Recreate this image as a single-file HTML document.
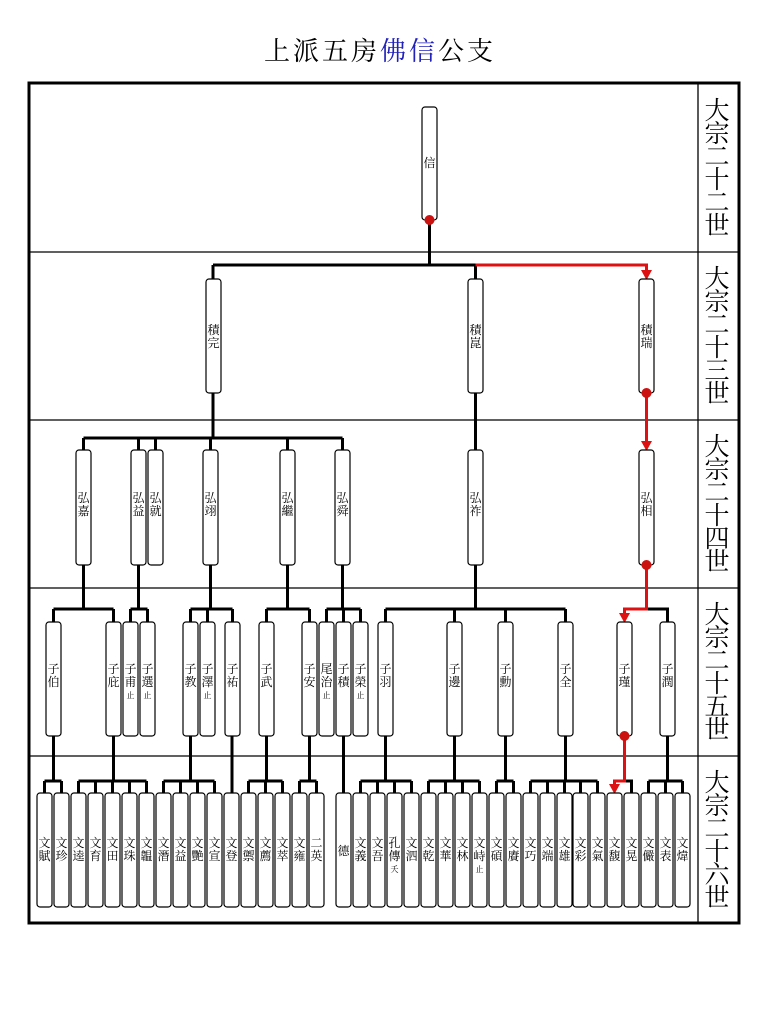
<!DOCTYPE html>
<html><head><meta charset="utf-8"><style>
html,body{margin:0;padding:0;background:#fff;}
svg{display:block;}
text{font-family:"Liberation Serif","Noto Serif CJK SC","Noto Serif CJK TC",serif;fill:#000;}
.b{fill:#fff;stroke:#000;stroke-width:1.2;}
.l{stroke:#000;stroke-width:3;fill:none;}
.r{stroke:#d11;stroke-width:3;fill:none;}
.t{font-size:12px;text-anchor:middle;}
.s{font-size:8px;text-anchor:middle;}
.g{font-size:25px;text-anchor:middle;}
</style></head><body>
<svg width="769" height="1024" viewBox="0 0 769 1024" xmlns="http://www.w3.org/2000/svg">
<!-- title -->
<text x="380" y="60" style="font-size:26px;text-anchor:middle;letter-spacing:3px">上派五房<tspan fill="#2222bb" style="fill:#2222bb">佛信</tspan>公支</text>
<!-- frame -->
<rect x="29" y="83" width="710" height="840" fill="none" stroke="#000" stroke-width="3"/>
<line x1="698" y1="83" x2="698" y2="923" stroke="#000" stroke-width="1.3"/>
<g stroke="#000" stroke-width="1.3">
<line x1="29" y1="252" x2="739" y2="252"/>
<line x1="29" y1="420" x2="739" y2="420"/>
<line x1="29" y1="588" x2="739" y2="588"/>
<line x1="29" y1="756" x2="739" y2="756"/>
</g>
<!-- generation labels -->
<g class="g">
<text x="717" y="119">大</text><text x="717" y="142">宗</text><text x="717" y="165">二</text><text x="717" y="188">十</text><text x="717" y="211">二</text><text x="717" y="234">世</text>
<text x="717" y="287">大</text><text x="717" y="310">宗</text><text x="717" y="333">二</text><text x="717" y="356">十</text><text x="717" y="379">三</text><text x="717" y="402">世</text>
<text x="717" y="455">大</text><text x="717" y="478">宗</text><text x="717" y="501">二</text><text x="717" y="524">十</text><text x="717" y="547">四</text><text x="717" y="570">世</text>
<text x="717" y="623">大</text><text x="717" y="646">宗</text><text x="717" y="669">二</text><text x="717" y="692">十</text><text x="717" y="715">五</text><text x="717" y="738">世</text>
<text x="717" y="791">大</text><text x="717" y="814">宗</text><text x="717" y="837">二</text><text x="717" y="860">十</text><text x="717" y="883">六</text><text x="717" y="906">世</text>
</g>

<!-- connectors gen22->23 -->
<path class="l" d="M429.5 220 V265 M213 265 H475.5 M213 265 V279 M475.5 265 V279"/>
<path class="r" d="M475.5 265 H646.5 V272"/>
<polygon points="641,270 652,270 646.5,280" fill="#d11"/>
<!-- gen23->24 -->
<path class="l" d="M213 393 V438 M83.5 438 H342.5 M83.5 438 V450 M138.5 438 V450 M155.5 438 V450 M210.5 438 V450 M287.5 438 V450 M342.5 438 V450 M475.5 393 V450"/>
<path class="r" d="M646.5 393 V443"/>
<polygon points="641,441 652,441 646.5,451" fill="#d11"/>
<!-- gen24->25 -->
<path class="l" d="M83.5 565 V609 M53.5 609 H113.5 M53.5 609 V622 M113.5 609 V622
M138.5 565 V609 M130.5 609 H147.5 M130.5 609 V622 M147.5 609 V622
M210.5 565 V609 M190.5 609 H232.5 M190.5 609 V622 M207.5 609 V622 M232.5 609 V622
M287.5 565 V609 M266.5 609 H309.5 M266.5 609 V622 M309.5 609 V622
M342.5 565 V609 M326.5 609 H360.5 M326.5 609 V622 M343.5 609 V622 M360.5 609 V622
M475.5 565 V609 M385.5 609 H565.5 M385.5 609 V622 M454.5 609 V622 M505.5 609 V622 M565.5 609 V622
M646.5 609 H667.5 V622"/>
<path class="r" d="M646.5 565 V609 H624.5 V615"/>
<polygon points="619,613 630,613 624.5,623" fill="#d11"/>
<!-- gen25->26 -->
<path class="l" d="M53.5 736 V781 M44.5 781 H61.5 M44.5 781 V793 M61.5 781 V793
M113.5 736 V781 M78.5 781 H146.5 M78.5 781 V793 M95.5 781 V793 M112.5 781 V793 M129.5 781 V793 M146.5 781 V793
M190.5 736 V781 M163.5 781 H214.5 M163.5 781 V793 M180.5 781 V793 M197.5 781 V793 M214.5 781 V793
M232 736 V793
M266.5 736 V781 M248.5 781 H282.5 M248.5 781 V793 M265.5 781 V793 M282.5 781 V793
M309.5 736 V781 M299.5 781 H316.5 M299.5 781 V793 M316.5 781 V793
M343.5 736 V793
M385.5 736 V781 M360.5 781 H411.5 M360.5 781 V793 M377.5 781 V793 M394.5 781 V793 M411.5 781 V793
M454.5 736 V781 M428.5 781 H479.5 M428.5 781 V793 M445.5 781 V793 M462.5 781 V793 M479.5 781 V793
M505.5 736 V781 M496.5 781 H513.5 M496.5 781 V793 M513.5 781 V793
M565.5 736 V781 M530.5 781 H597.5 M530.5 781 V793 M547.5 781 V793 M564.5 781 V793 M580.5 781 V793 M597.5 781 V793
M624.5 781 H631.5 V793
M667.5 736 V781 M648.5 781 H682.5 M648.5 781 V793 M665.5 781 V793 M682.5 781 V793"/>
<path class="r" d="M624.5 736 V781 H614.5 V786"/>
<polygon points="609,784 620,784 614.5,794" fill="#d11"/>

<!-- gen22 box -->
<rect class="b" x="422" y="107" width="15" height="113" rx="3"/>
<text class="t" x="429.5" y="167">信</text>

<!-- gen23 boxes -->
<rect class="b" x="206" y="279" width="15" height="114" rx="3"/>
<rect class="b" x="468" y="279" width="15" height="114" rx="3"/>
<rect class="b" x="639" y="279" width="15" height="114" rx="3"/>
<g class="t">
<text x="213.5" y="334">積</text><text x="213.5" y="347">完</text>
<text x="475.5" y="334">積</text><text x="475.5" y="347">崑</text>
<text x="646.5" y="334">積</text><text x="646.5" y="347">瑞</text>
</g>

<!-- gen24 boxes -->
<g>
<rect class="b" x="76" y="450" width="15" height="115" rx="3"/>
<rect class="b" x="131" y="450" width="15" height="115" rx="3"/>
<rect class="b" x="148" y="450" width="15" height="115" rx="3"/>
<rect class="b" x="203" y="450" width="15" height="115" rx="3"/>
<rect class="b" x="280" y="450" width="15" height="115" rx="3"/>
<rect class="b" x="335" y="450" width="15" height="115" rx="3"/>
<rect class="b" x="468" y="450" width="15" height="115" rx="3"/>
<rect class="b" x="639" y="450" width="15" height="115" rx="3"/>
</g>
<g class="t">
<text x="83.5" y="502">弘</text><text x="83.5" y="515">嘉</text>
<text x="138.5" y="502">弘</text><text x="138.5" y="515">益</text>
<text x="155.5" y="502">弘</text><text x="155.5" y="515">就</text>
<text x="210.5" y="502">弘</text><text x="210.5" y="515">翊</text>
<text x="287.5" y="502">弘</text><text x="287.5" y="515">繼</text>
<text x="342.5" y="502">弘</text><text x="342.5" y="515">舜</text>
<text x="475.5" y="502">弘</text><text x="475.5" y="515">祚</text>
<text x="646.5" y="502">弘</text><text x="646.5" y="515">相</text>
</g>

<!-- gen25 boxes -->
<g>
<rect class="b" x="46" y="622" width="15" height="114" rx="3"/>
<rect class="b" x="106" y="622" width="15" height="114" rx="3"/>
<rect class="b" x="123" y="622" width="15" height="114" rx="3"/>
<rect class="b" x="140" y="622" width="15" height="114" rx="3"/>
<rect class="b" x="183" y="622" width="15" height="114" rx="3"/>
<rect class="b" x="200" y="622" width="15" height="114" rx="3"/>
<rect class="b" x="225" y="622" width="15" height="114" rx="3"/>
<rect class="b" x="259" y="622" width="15" height="114" rx="3"/>
<rect class="b" x="302" y="622" width="15" height="114" rx="3"/>
<rect class="b" x="319" y="622" width="15" height="114" rx="3"/>
<rect class="b" x="336" y="622" width="15" height="114" rx="3"/>
<rect class="b" x="353" y="622" width="15" height="114" rx="3"/>
<rect class="b" x="378" y="622" width="15" height="114" rx="3"/>
<rect class="b" x="447" y="622" width="15" height="114" rx="3"/>
<rect class="b" x="498" y="622" width="15" height="114" rx="3"/>
<rect class="b" x="558" y="622" width="15" height="114" rx="3"/>
<rect class="b" x="617" y="622" width="15" height="114" rx="3"/>
<rect class="b" x="660" y="622" width="15" height="114" rx="3"/>
</g>
<g class="t">
<text x="53.5" y="673">子</text><text x="53.5" y="686">伯</text>
<text x="113.5" y="673">子</text><text x="113.5" y="686">庇</text>
<text x="130.5" y="673">子</text><text x="130.5" y="686">甫</text>
<text x="147.5" y="673">子</text><text x="147.5" y="686">選</text>
<text x="190.5" y="673">子</text><text x="190.5" y="686">教</text>
<text x="207.5" y="673">子</text><text x="207.5" y="686">澤</text>
<text x="232.5" y="673">子</text><text x="232.5" y="686">祐</text>
<text x="266.5" y="673">子</text><text x="266.5" y="686">武</text>
<text x="309.5" y="673">子</text><text x="309.5" y="686">安</text>
<text x="326.5" y="673">尾</text><text x="326.5" y="686">治</text>
<text x="343.5" y="673">子</text><text x="343.5" y="686">積</text>
<text x="360.5" y="673">子</text><text x="360.5" y="686">榮</text>
<text x="385.5" y="673">子</text><text x="385.5" y="686">羽</text>
<text x="454.5" y="673">子</text><text x="454.5" y="686">邊</text>
<text x="505.5" y="673">子</text><text x="505.5" y="686">勳</text>
<text x="565.5" y="673">子</text><text x="565.5" y="686">全</text>
<text x="624.5" y="673">子</text><text x="624.5" y="686">瑾</text>
<text x="667.5" y="673">子</text><text x="667.5" y="686">潤</text>
</g>
<g class="s">
<text x="130.5" y="698">止</text><text x="147.5" y="698">止</text><text x="207.5" y="698">止</text>
<text x="326.5" y="698">止</text><text x="360.5" y="698">止</text>
</g>

<!-- gen26 boxes -->
<g>
<rect class="b" x="37" y="793" width="15" height="114" rx="3"/>
<rect class="b" x="54" y="793" width="15" height="114" rx="3"/>
<rect class="b" x="71" y="793" width="15" height="114" rx="3"/>
<rect class="b" x="88" y="793" width="15" height="114" rx="3"/>
<rect class="b" x="105" y="793" width="15" height="114" rx="3"/>
<rect class="b" x="122" y="793" width="15" height="114" rx="3"/>
<rect class="b" x="139" y="793" width="15" height="114" rx="3"/>
<rect class="b" x="156" y="793" width="15" height="114" rx="3"/>
<rect class="b" x="173" y="793" width="15" height="114" rx="3"/>
<rect class="b" x="190" y="793" width="15" height="114" rx="3"/>
<rect class="b" x="207" y="793" width="15" height="114" rx="3"/>
<rect class="b" x="224" y="793" width="15" height="114" rx="3"/>
<rect class="b" x="241" y="793" width="15" height="114" rx="3"/>
<rect class="b" x="258" y="793" width="15" height="114" rx="3"/>
<rect class="b" x="275" y="793" width="15" height="114" rx="3"/>
<rect class="b" x="292" y="793" width="15" height="114" rx="3"/>
<rect class="b" x="309" y="793" width="15" height="114" rx="3"/>
<rect class="b" x="336" y="793" width="15" height="114" rx="3"/>
<rect class="b" x="353" y="793" width="15" height="114" rx="3"/>
<rect class="b" x="370" y="793" width="15" height="114" rx="3"/>
<rect class="b" x="387" y="793" width="15" height="114" rx="3"/>
<rect class="b" x="404" y="793" width="15" height="114" rx="3"/>
<rect class="b" x="421" y="793" width="15" height="114" rx="3"/>
<rect class="b" x="438" y="793" width="15" height="114" rx="3"/>
<rect class="b" x="455" y="793" width="15" height="114" rx="3"/>
<rect class="b" x="472" y="793" width="15" height="114" rx="3"/>
<rect class="b" x="489" y="793" width="15" height="114" rx="3"/>
<rect class="b" x="506" y="793" width="15" height="114" rx="3"/>
<rect class="b" x="523" y="793" width="15" height="114" rx="3"/>
<rect class="b" x="540" y="793" width="15" height="114" rx="3"/>
<rect class="b" x="557" y="793" width="15" height="114" rx="3"/>
<rect class="b" x="573" y="793" width="15" height="114" rx="3"/>
<rect class="b" x="590" y="793" width="15" height="114" rx="3"/>
<rect class="b" x="607" y="793" width="15" height="114" rx="3"/>
<rect class="b" x="624" y="793" width="15" height="114" rx="3"/>
<rect class="b" x="641" y="793" width="15" height="114" rx="3"/>
<rect class="b" x="658" y="793" width="15" height="114" rx="3"/>
<rect class="b" x="675" y="793" width="15" height="114" rx="3"/>
</g>
<g class="t">
<text x="44.5" y="847">文</text><text x="44.5" y="860">賦</text>
<text x="61.5" y="847">文</text><text x="61.5" y="860">珍</text>
<text x="78.5" y="847">文</text><text x="78.5" y="860">逵</text>
<text x="95.5" y="847">文</text><text x="95.5" y="860">育</text>
<text x="112.5" y="847">文</text><text x="112.5" y="860">田</text>
<text x="129.5" y="847">文</text><text x="129.5" y="860">珠</text>
<text x="146.5" y="847">文</text><text x="146.5" y="860">韞</text>
<text x="163.5" y="847">文</text><text x="163.5" y="860">潛</text>
<text x="180.5" y="847">文</text><text x="180.5" y="860">益</text>
<text x="197.5" y="847">文</text><text x="197.5" y="860">艷</text>
<text x="214.5" y="847">文</text><text x="214.5" y="860">宣</text>
<text x="231.5" y="847">文</text><text x="231.5" y="860">登</text>
<text x="248.5" y="847">文</text><text x="248.5" y="860">禦</text>
<text x="265.5" y="847">文</text><text x="265.5" y="860">薦</text>
<text x="282.5" y="847">文</text><text x="282.5" y="860">萃</text>
<text x="299.5" y="847">文</text><text x="299.5" y="860">雍</text>
<text x="316.5" y="847">二</text><text x="316.5" y="860">英</text>
<text x="343.5" y="855">德</text>
<text x="360.5" y="847">文</text><text x="360.5" y="860">義</text>
<text x="377.5" y="847">文</text><text x="377.5" y="860">吾</text>
<text x="394.5" y="847">孔</text><text x="394.5" y="860">傳</text>
<text x="411.5" y="847">文</text><text x="411.5" y="860">泗</text>
<text x="428.5" y="847">文</text><text x="428.5" y="860">乾</text>
<text x="445.5" y="847">文</text><text x="445.5" y="860">華</text>
<text x="462.5" y="847">文</text><text x="462.5" y="860">林</text>
<text x="479.5" y="847">文</text><text x="479.5" y="860">峙</text>
<text x="496.5" y="847">文</text><text x="496.5" y="860">碩</text>
<text x="513.5" y="847">文</text><text x="513.5" y="860">賡</text>
<text x="530.5" y="847">文</text><text x="530.5" y="860">巧</text>
<text x="547.5" y="847">文</text><text x="547.5" y="860">端</text>
<text x="564.5" y="847">文</text><text x="564.5" y="860">雄</text>
<text x="580.5" y="847">文</text><text x="580.5" y="860">彩</text>
<text x="597.5" y="847">文</text><text x="597.5" y="860">氣</text>
<text x="614.5" y="847">文</text><text x="614.5" y="860">馥</text>
<text x="631.5" y="847">文</text><text x="631.5" y="860">晃</text>
<text x="648.5" y="847">文</text><text x="648.5" y="860">儼</text>
<text x="665.5" y="847">文</text><text x="665.5" y="860">表</text>
<text x="682.5" y="847">文</text><text x="682.5" y="860">煒</text>
</g>
<g class="s">
<text x="394.5" y="872">夭</text><text x="479.5" y="872">止</text>
</g>

<!-- red dots -->
<g fill="#c11">
<circle cx="429.5" cy="220" r="5"/>
<circle cx="646.5" cy="393" r="5"/>
<circle cx="646.5" cy="565" r="5"/>
<circle cx="624.5" cy="736" r="5"/>
</g>
</svg>
</body></html>
